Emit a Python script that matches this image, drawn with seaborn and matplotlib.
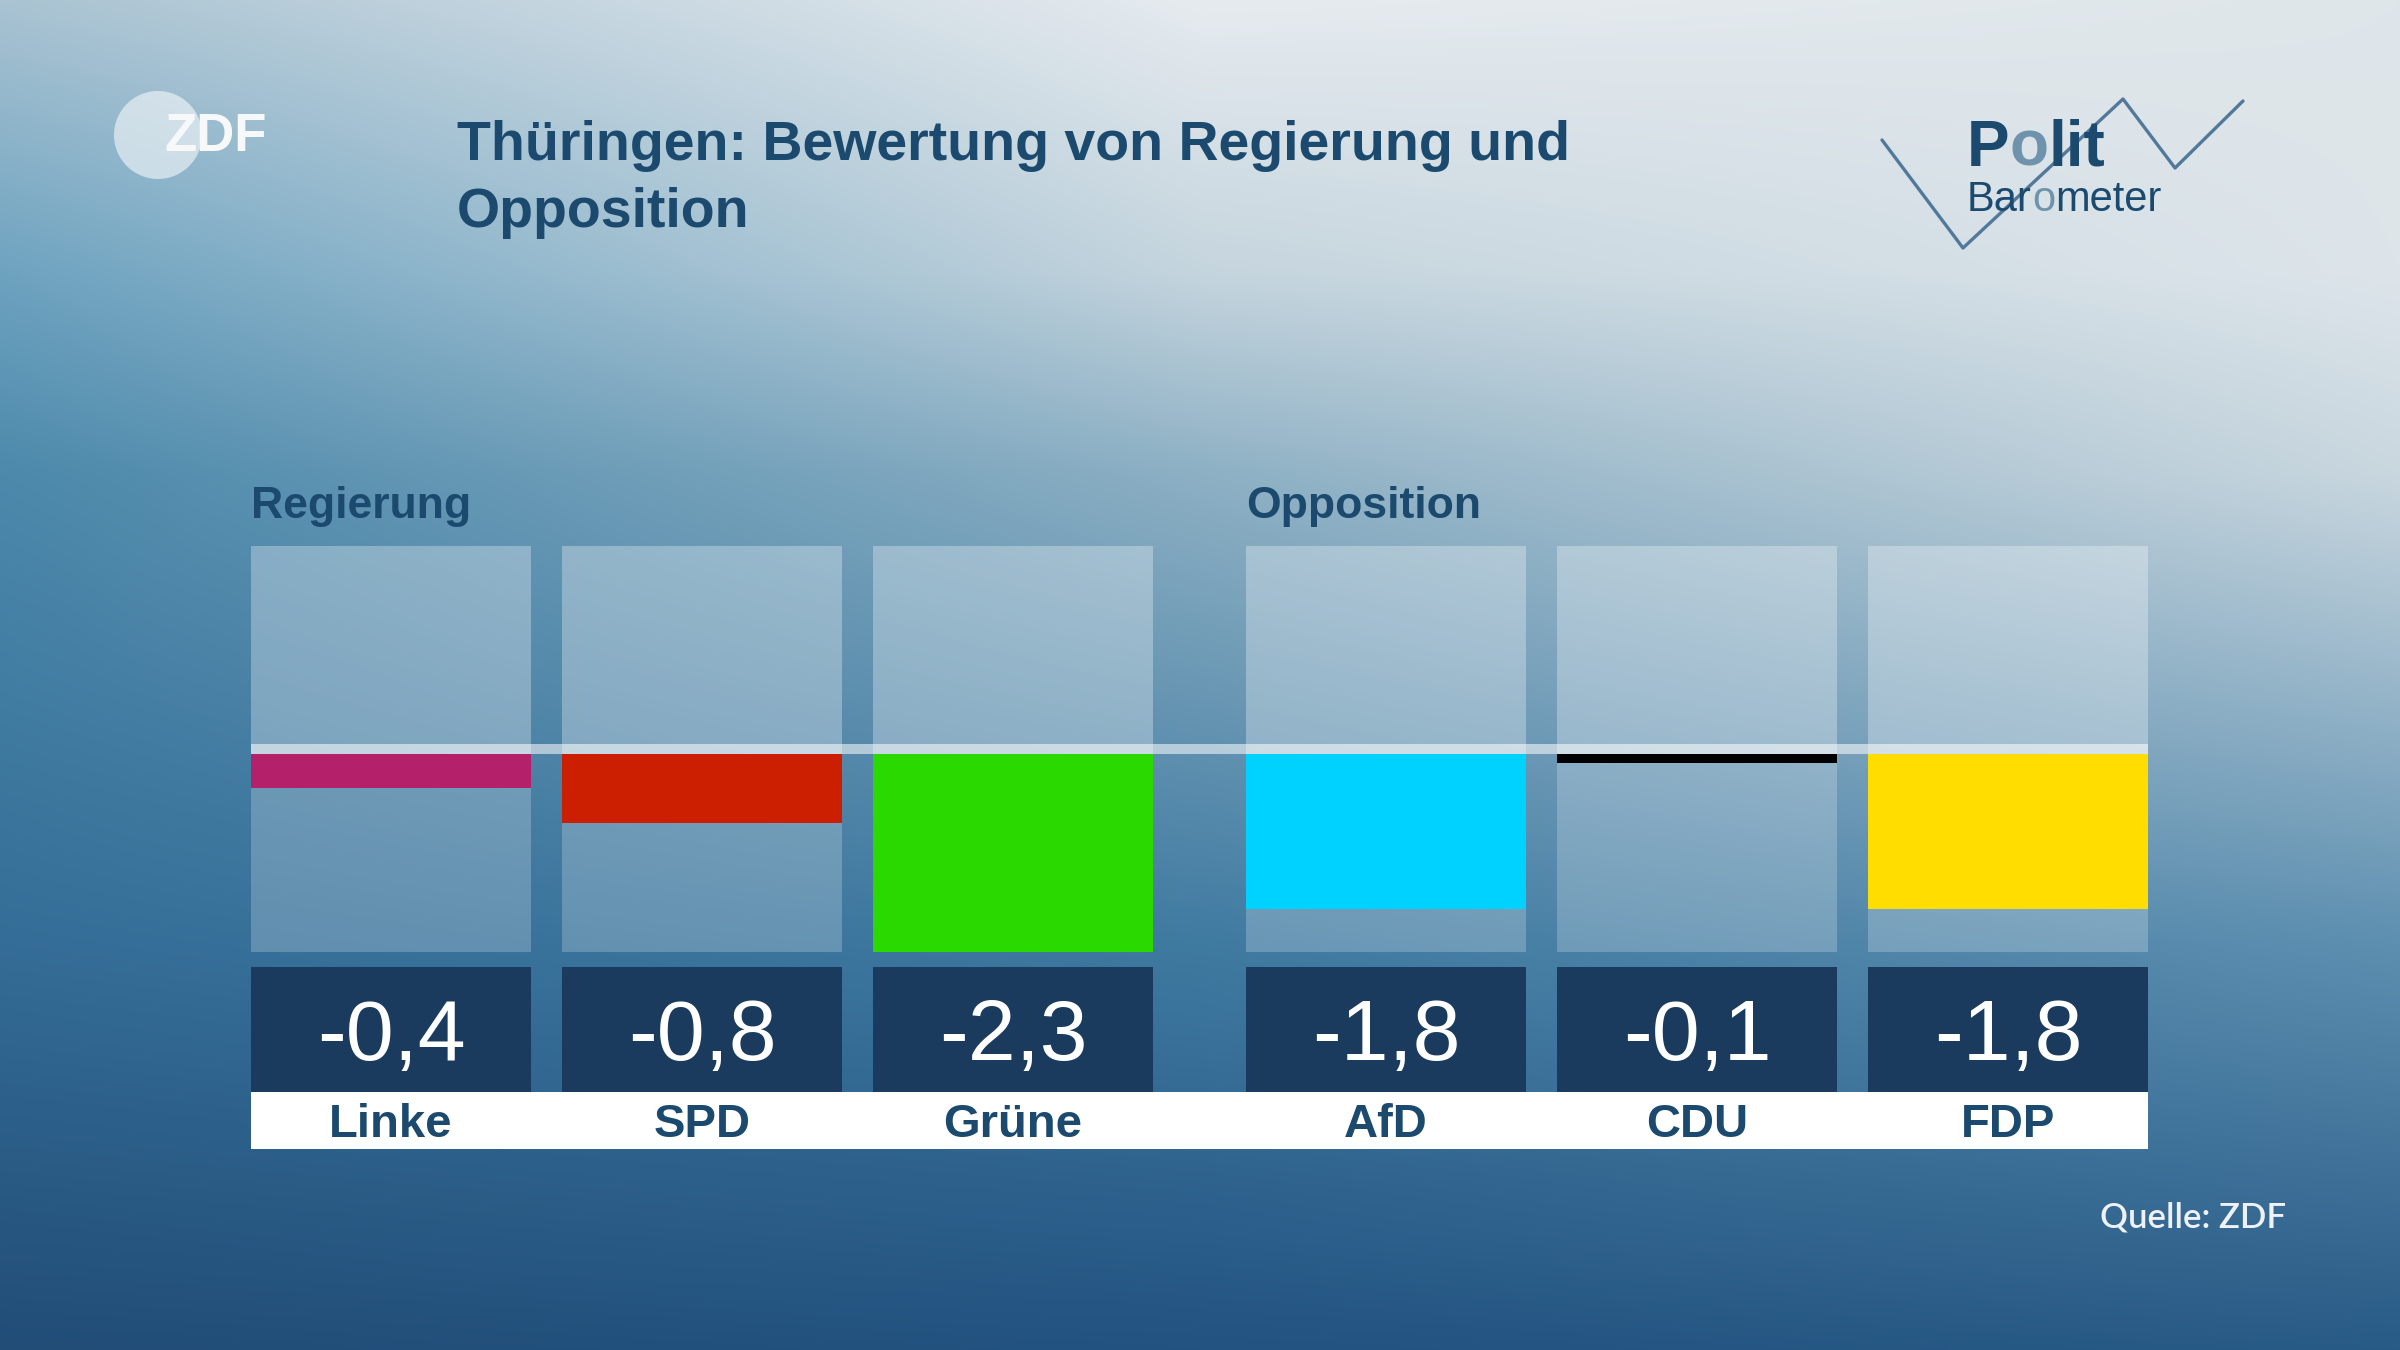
import numpy as np
import pandas as pd
import seaborn as sns
import matplotlib.pyplot as plt
from matplotlib.patches import Circle

# data
parteien = ['Linke', 'SPD', 'Grüne', 'AfD', 'CDU', 'FDP']
werte = [-0.4, -0.8, -2.3, -1.8, -0.1, -1.8]
wert_labels = ['-0,4', '-0,8', '-2,3', '-1,8', '-0,1', '-1,8']
farben = ['#b5206a', '#cc1e00', '#2ad900', '#00d2ff', '#000000', '#ffdd00']
positionen = [0, 1, 2, 3.2, 4.2, 5.2]
gruppen = ['Regierung', 'Opposition']
gruppen_start = [0, 3]

W, H = 2400, 1350
DUNKEL = '#1b4a6e'

sns.set_theme(style='white')
plt.rcParams['font.family'] = ['Liberation Sans', 'DejaVu Sans']

fig = plt.figure(figsize=(24, 13.5), dpi=100)

# background gradient (pixel coords on a full-figure axes)
ax_bg = fig.add_axes([0, 0, 1, 1])
gx = [0, 0.5, 1]
gy = [0, 0.2, 0.35, 0.7, 1]
grid = [['#a9c3d2', '#e6ebef', '#dfe6ea'],
        ['#6ea3c0', '#c5d5de', '#dde5ea'],
        ['#4c89ab', '#8db0c4', '#c9d7df'],
        ['#346d97', '#3f7aa1', '#5d8fb0'],
        ['#214d77', '#235381', '#285b86']]
G = np.array([[[int(c[i:i + 2], 16) / 255 for i in (1, 3, 5)] for c in row] for row in grid])
xx = np.linspace(0, 1, 480)
yy = np.linspace(0, 1, 270)
rows = np.stack([np.stack([np.interp(xx, gx, G[r, :, k]) for k in range(3)], -1) for r in range(len(gy))])
img = np.zeros((len(yy), len(xx), 3))
for j in range(len(xx)):
    for k in range(3):
        img[:, j, k] = np.interp(yy, gy, rows[:, j, k])
ax_bg.imshow(img, extent=(0, W, H, 0), aspect='auto', interpolation='bilinear')
ax_bg.set_xlim(0, W)
ax_bg.set_ylim(H, 0)
ax_bg.axis('off')

# ZDF logo
ax_bg.add_patch(Circle((158, 135), 44, color='white', alpha=0.55, lw=0))
ax_bg.text(164, 137, 'ZDF', color='#f6f8fa', fontsize=38, fontweight='bold',
           va='center', ha='left')

# title
ax_bg.text(457, 160, 'Thüringen: Bewertung von Regierung und', color=DUNKEL,
           fontsize=40, fontweight='bold', va='baseline')
ax_bg.text(457, 227, 'Opposition', color=DUNKEL, fontsize=40,
           fontweight='bold', va='baseline')

# Politbarometer logo
fig.canvas.draw()
r = fig.canvas.get_renderer()


def teile(x, y, stuecke, size, weight):
    for s, c in stuecke:
        t = ax_bg.text(x, y, s, color=c, fontsize=size, fontweight=weight,
                       va='baseline')
        bb = t.get_window_extent(renderer=r)
        x += bb.width


teile(1967, 166, [('P', DUNKEL), ('o', '#7093ad'), ('lit', DUNKEL)], 46, 'bold')
teile(1967, 211, [('Bar', DUNKEL), ('o', '#7093ad'), ('meter', DUNKEL)], 30, 'normal')
ax_bg.plot([1882, 1963, 2123, 2175, 2243], [140, 248, 99, 168, 101],
           color='#52789a', lw=2.4)

# source
ax_bg.text(2286, 1227, 'Quelle: ZDF', color='#eef2f7', fontsize=25,
           ha='right', va='baseline', family=['Lato', 'DejaVu Sans'],
           fontweight='semibold')

# main chart axes: x in slot units, y in rating units
x0, slot = 391, 311
zero, unit = 754, 86
xlim = (-0.6, 5.8)
ylim = (-4.8, 2.6)
left = x0 + xlim[0] * slot
right = x0 + xlim[1] * slot
top = zero - ylim[1] * unit
bottom = zero - ylim[0] * unit
ax = fig.add_axes([left / W, (H - bottom) / H, (right - left) / W, (bottom - top) / H])
ax.patch.set_alpha(0)

# panels
ax.bar(positionen, 2.42, bottom=0, width=0.9, color='white', alpha=0.3, lw=0)
ax.bar(positionen, -2.3, bottom=0, width=0.9, color='white', alpha=0.22, lw=0)
ax.fill_between([-0.45, 5.65], 0, 0.12, color='white', alpha=0.55, lw=0)

df = pd.DataFrame({'partei': parteien, 'pos': positionen, 'wert': werte})
sns.barplot(data=df, x='pos', y='wert', hue='partei', palette=farben,
            native_scale=True, width=0.9, dodge=False, legend=False,
            saturation=1, errorbar=None, linewidth=0, ax=ax)

# value boxes and label strip
ax.bar(positionen, -3.93 + 2.477, bottom=-2.477, width=0.9, color='#1a3b5d', lw=0)
ax.fill_between([-0.45, 5.65], -4.59, -3.93, color='white', lw=0)
for p, lab, name in zip(positionen, wert_labels, parteien):
    ax.text(p, -3.558, lab, color='white', fontsize=62, ha='center', va='baseline')
    ax.text(p, -4.453, name, color=DUNKEL, fontsize=34, fontweight='bold',
            ha='center', va='baseline')

for g, i in zip(gruppen, gruppen_start):
    ax.text(positionen[i] - 0.45, (zero - 518) / unit, g, color=DUNKEL,
            fontsize=32, fontweight='bold', va='baseline', ha='left')

ax.set_xlim(*xlim)
ax.set_ylim(*ylim)
ax.axis('off')

fig.savefig('out.png', dpi=100)
